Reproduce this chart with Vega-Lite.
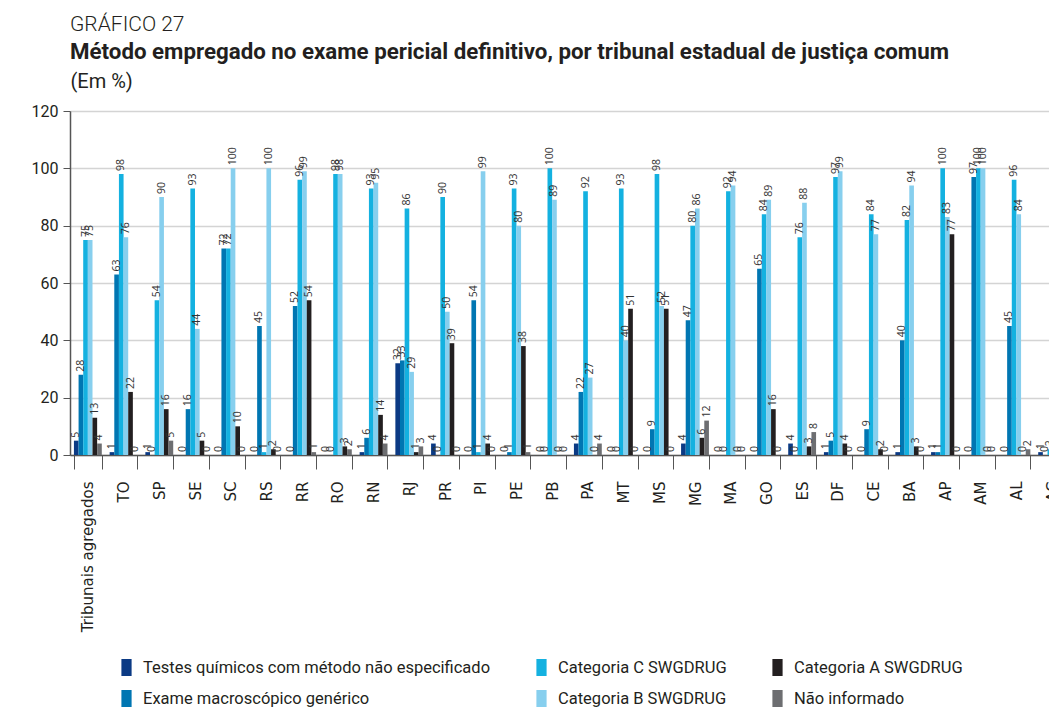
{
  "$schema": "https://vega.github.io/schema/vega-lite/v6.json",
  "autosize": {"type": "none"},
  "width": 979,
  "height": 344,
  "padding": {"left": 70, "top": 111, "right": 0, "bottom": 255},
  "background": "white",
  "title": {
    "text": "GRÁFICO 27",
    "subtitle": "Método empregado no exame pericial definitivo, por tribunal estadual de justiça comum",
    "anchor": "start",
    "frame": "group",
    "offset": 8,
    "font": "Roboto",
    "fontSize": 21,
    "fontWeight": 300,
    "color": "#231f20",
    "subtitleFont": "Roboto",
    "subtitleFontSize": 22.3,
    "subtitleFontWeight": "bold",
    "subtitleColor": "#231f20",
    "subtitlePadding": 6
  },
  "data": {
    "values": [
      {"tribunal": "Tribunais agregados", "metodo": "Testes químicos com método não especificado", "valor": 5},
      {"tribunal": "Tribunais agregados", "metodo": "Exame macroscópico genérico", "valor": 28},
      {"tribunal": "Tribunais agregados", "metodo": "Categoria C SWGDRUG", "valor": 75},
      {"tribunal": "Tribunais agregados", "metodo": "Categoria B SWGDRUG", "valor": 75},
      {"tribunal": "Tribunais agregados", "metodo": "Categoria A SWGDRUG", "valor": 13},
      {"tribunal": "Tribunais agregados", "metodo": "Não informado", "valor": 4},
      {"tribunal": "TO", "metodo": "Testes químicos com método não especificado", "valor": 1},
      {"tribunal": "TO", "metodo": "Exame macroscópico genérico", "valor": 63},
      {"tribunal": "TO", "metodo": "Categoria C SWGDRUG", "valor": 98},
      {"tribunal": "TO", "metodo": "Categoria B SWGDRUG", "valor": 76},
      {"tribunal": "TO", "metodo": "Categoria A SWGDRUG", "valor": 22},
      {"tribunal": "TO", "metodo": "Não informado", "valor": 0},
      {"tribunal": "SP", "metodo": "Testes químicos com método não especificado", "valor": 1},
      {"tribunal": "SP", "metodo": "Exame macroscópico genérico", "valor": 0},
      {"tribunal": "SP", "metodo": "Categoria C SWGDRUG", "valor": 54},
      {"tribunal": "SP", "metodo": "Categoria B SWGDRUG", "valor": 90},
      {"tribunal": "SP", "metodo": "Categoria A SWGDRUG", "valor": 16},
      {"tribunal": "SP", "metodo": "Não informado", "valor": 5},
      {"tribunal": "SE", "metodo": "Testes químicos com método não especificado", "valor": 0},
      {"tribunal": "SE", "metodo": "Exame macroscópico genérico", "valor": 16},
      {"tribunal": "SE", "metodo": "Categoria C SWGDRUG", "valor": 93},
      {"tribunal": "SE", "metodo": "Categoria B SWGDRUG", "valor": 44},
      {"tribunal": "SE", "metodo": "Categoria A SWGDRUG", "valor": 5},
      {"tribunal": "SE", "metodo": "Não informado", "valor": 0},
      {"tribunal": "SC", "metodo": "Testes químicos com método não especificado", "valor": 0},
      {"tribunal": "SC", "metodo": "Exame macroscópico genérico", "valor": 72},
      {"tribunal": "SC", "metodo": "Categoria C SWGDRUG", "valor": 72},
      {"tribunal": "SC", "metodo": "Categoria B SWGDRUG", "valor": 100},
      {"tribunal": "SC", "metodo": "Categoria A SWGDRUG", "valor": 10},
      {"tribunal": "SC", "metodo": "Não informado", "valor": 0},
      {"tribunal": "RS", "metodo": "Testes químicos com método não especificado", "valor": 0},
      {"tribunal": "RS", "metodo": "Exame macroscópico genérico", "valor": 45},
      {"tribunal": "RS", "metodo": "Categoria C SWGDRUG", "valor": 1},
      {"tribunal": "RS", "metodo": "Categoria B SWGDRUG", "valor": 100},
      {"tribunal": "RS", "metodo": "Categoria A SWGDRUG", "valor": 2},
      {"tribunal": "RS", "metodo": "Não informado", "valor": 0},
      {"tribunal": "RR", "metodo": "Testes químicos com método não especificado", "valor": 0},
      {"tribunal": "RR", "metodo": "Exame macroscópico genérico", "valor": 52},
      {"tribunal": "RR", "metodo": "Categoria C SWGDRUG", "valor": 96},
      {"tribunal": "RR", "metodo": "Categoria B SWGDRUG", "valor": 99},
      {"tribunal": "RR", "metodo": "Categoria A SWGDRUG", "valor": 54},
      {"tribunal": "RR", "metodo": "Não informado", "valor": 1},
      {"tribunal": "RO", "metodo": "Testes químicos com método não especificado", "valor": 0},
      {"tribunal": "RO", "metodo": "Exame macroscópico genérico", "valor": 0},
      {"tribunal": "RO", "metodo": "Categoria C SWGDRUG", "valor": 98},
      {"tribunal": "RO", "metodo": "Categoria B SWGDRUG", "valor": 98},
      {"tribunal": "RO", "metodo": "Categoria A SWGDRUG", "valor": 3},
      {"tribunal": "RO", "metodo": "Não informado", "valor": 2},
      {"tribunal": "RN", "metodo": "Testes químicos com método não especificado", "valor": 1},
      {"tribunal": "RN", "metodo": "Exame macroscópico genérico", "valor": 6},
      {"tribunal": "RN", "metodo": "Categoria C SWGDRUG", "valor": 93},
      {"tribunal": "RN", "metodo": "Categoria B SWGDRUG", "valor": 95},
      {"tribunal": "RN", "metodo": "Categoria A SWGDRUG", "valor": 14},
      {"tribunal": "RN", "metodo": "Não informado", "valor": 4},
      {"tribunal": "RJ", "metodo": "Testes químicos com método não especificado", "valor": 32},
      {"tribunal": "RJ", "metodo": "Exame macroscópico genérico", "valor": 33},
      {"tribunal": "RJ", "metodo": "Categoria C SWGDRUG", "valor": 86},
      {"tribunal": "RJ", "metodo": "Categoria B SWGDRUG", "valor": 29},
      {"tribunal": "RJ", "metodo": "Categoria A SWGDRUG", "valor": 1},
      {"tribunal": "RJ", "metodo": "Não informado", "valor": 3},
      {"tribunal": "PR", "metodo": "Testes químicos com método não especificado", "valor": 4},
      {"tribunal": "PR", "metodo": "Exame macroscópico genérico", "valor": 0},
      {"tribunal": "PR", "metodo": "Categoria C SWGDRUG", "valor": 90},
      {"tribunal": "PR", "metodo": "Categoria B SWGDRUG", "valor": 50},
      {"tribunal": "PR", "metodo": "Categoria A SWGDRUG", "valor": 39},
      {"tribunal": "PR", "metodo": "Não informado", "valor": 0},
      {"tribunal": "PI", "metodo": "Testes químicos com método não especificado", "valor": 0},
      {"tribunal": "PI", "metodo": "Exame macroscópico genérico", "valor": 54},
      {"tribunal": "PI", "metodo": "Categoria C SWGDRUG", "valor": 1},
      {"tribunal": "PI", "metodo": "Categoria B SWGDRUG", "valor": 99},
      {"tribunal": "PI", "metodo": "Categoria A SWGDRUG", "valor": 4},
      {"tribunal": "PI", "metodo": "Não informado", "valor": 0},
      {"tribunal": "PE", "metodo": "Testes químicos com método não especificado", "valor": 0},
      {"tribunal": "PE", "metodo": "Exame macroscópico genérico", "valor": 1},
      {"tribunal": "PE", "metodo": "Categoria C SWGDRUG", "valor": 93},
      {"tribunal": "PE", "metodo": "Categoria B SWGDRUG", "valor": 80},
      {"tribunal": "PE", "metodo": "Categoria A SWGDRUG", "valor": 38},
      {"tribunal": "PE", "metodo": "Não informado", "valor": 1},
      {"tribunal": "PB", "metodo": "Testes químicos com método não especificado", "valor": 0},
      {"tribunal": "PB", "metodo": "Exame macroscópico genérico", "valor": 0},
      {"tribunal": "PB", "metodo": "Categoria C SWGDRUG", "valor": 100},
      {"tribunal": "PB", "metodo": "Categoria B SWGDRUG", "valor": 89},
      {"tribunal": "PB", "metodo": "Categoria A SWGDRUG", "valor": 0},
      {"tribunal": "PB", "metodo": "Não informado", "valor": 0},
      {"tribunal": "PA", "metodo": "Testes químicos com método não especificado", "valor": 4},
      {"tribunal": "PA", "metodo": "Exame macroscópico genérico", "valor": 22},
      {"tribunal": "PA", "metodo": "Categoria C SWGDRUG", "valor": 92},
      {"tribunal": "PA", "metodo": "Categoria B SWGDRUG", "valor": 27},
      {"tribunal": "PA", "metodo": "Categoria A SWGDRUG", "valor": 0},
      {"tribunal": "PA", "metodo": "Não informado", "valor": 4},
      {"tribunal": "MT", "metodo": "Testes químicos com método não especificado", "valor": 0},
      {"tribunal": "MT", "metodo": "Exame macroscópico genérico", "valor": 0},
      {"tribunal": "MT", "metodo": "Categoria C SWGDRUG", "valor": 93},
      {"tribunal": "MT", "metodo": "Categoria B SWGDRUG", "valor": 40},
      {"tribunal": "MT", "metodo": "Categoria A SWGDRUG", "valor": 51},
      {"tribunal": "MT", "metodo": "Não informado", "valor": 0},
      {"tribunal": "MS", "metodo": "Testes químicos com método não especificado", "valor": 0},
      {"tribunal": "MS", "metodo": "Exame macroscópico genérico", "valor": 9},
      {"tribunal": "MS", "metodo": "Categoria C SWGDRUG", "valor": 98},
      {"tribunal": "MS", "metodo": "Categoria B SWGDRUG", "valor": 52},
      {"tribunal": "MS", "metodo": "Categoria A SWGDRUG", "valor": 51},
      {"tribunal": "MS", "metodo": "Não informado", "valor": 0},
      {"tribunal": "MG", "metodo": "Testes químicos com método não especificado", "valor": 4},
      {"tribunal": "MG", "metodo": "Exame macroscópico genérico", "valor": 47},
      {"tribunal": "MG", "metodo": "Categoria C SWGDRUG", "valor": 80},
      {"tribunal": "MG", "metodo": "Categoria B SWGDRUG", "valor": 86},
      {"tribunal": "MG", "metodo": "Categoria A SWGDRUG", "valor": 6},
      {"tribunal": "MG", "metodo": "Não informado", "valor": 12},
      {"tribunal": "MA", "metodo": "Testes químicos com método não especificado", "valor": 0},
      {"tribunal": "MA", "metodo": "Exame macroscópico genérico", "valor": 0},
      {"tribunal": "MA", "metodo": "Categoria C SWGDRUG", "valor": 92},
      {"tribunal": "MA", "metodo": "Categoria B SWGDRUG", "valor": 94},
      {"tribunal": "MA", "metodo": "Categoria A SWGDRUG", "valor": 0},
      {"tribunal": "MA", "metodo": "Não informado", "valor": 0},
      {"tribunal": "GO", "metodo": "Testes químicos com método não especificado", "valor": 0},
      {"tribunal": "GO", "metodo": "Exame macroscópico genérico", "valor": 65},
      {"tribunal": "GO", "metodo": "Categoria C SWGDRUG", "valor": 84},
      {"tribunal": "GO", "metodo": "Categoria B SWGDRUG", "valor": 89},
      {"tribunal": "GO", "metodo": "Categoria A SWGDRUG", "valor": 16},
      {"tribunal": "GO", "metodo": "Não informado", "valor": 0},
      {"tribunal": "ES", "metodo": "Testes químicos com método não especificado", "valor": 4},
      {"tribunal": "ES", "metodo": "Exame macroscópico genérico", "valor": 0},
      {"tribunal": "ES", "metodo": "Categoria C SWGDRUG", "valor": 76},
      {"tribunal": "ES", "metodo": "Categoria B SWGDRUG", "valor": 88},
      {"tribunal": "ES", "metodo": "Categoria A SWGDRUG", "valor": 3},
      {"tribunal": "ES", "metodo": "Não informado", "valor": 8},
      {"tribunal": "DF", "metodo": "Testes químicos com método não especificado", "valor": 1},
      {"tribunal": "DF", "metodo": "Exame macroscópico genérico", "valor": 5},
      {"tribunal": "DF", "metodo": "Categoria C SWGDRUG", "valor": 97},
      {"tribunal": "DF", "metodo": "Categoria B SWGDRUG", "valor": 99},
      {"tribunal": "DF", "metodo": "Categoria A SWGDRUG", "valor": 4},
      {"tribunal": "DF", "metodo": "Não informado", "valor": 0},
      {"tribunal": "CE", "metodo": "Testes químicos com método não especificado", "valor": 0},
      {"tribunal": "CE", "metodo": "Exame macroscópico genérico", "valor": 9},
      {"tribunal": "CE", "metodo": "Categoria C SWGDRUG", "valor": 84},
      {"tribunal": "CE", "metodo": "Categoria B SWGDRUG", "valor": 77},
      {"tribunal": "CE", "metodo": "Categoria A SWGDRUG", "valor": 2},
      {"tribunal": "CE", "metodo": "Não informado", "valor": 0},
      {"tribunal": "BA", "metodo": "Testes químicos com método não especificado", "valor": 1},
      {"tribunal": "BA", "metodo": "Exame macroscópico genérico", "valor": 40},
      {"tribunal": "BA", "metodo": "Categoria C SWGDRUG", "valor": 82},
      {"tribunal": "BA", "metodo": "Categoria B SWGDRUG", "valor": 94},
      {"tribunal": "BA", "metodo": "Categoria A SWGDRUG", "valor": 3},
      {"tribunal": "BA", "metodo": "Não informado", "valor": 0},
      {"tribunal": "AP", "metodo": "Testes químicos com método não especificado", "valor": 1},
      {"tribunal": "AP", "metodo": "Exame macroscópico genérico", "valor": 1},
      {"tribunal": "AP", "metodo": "Categoria C SWGDRUG", "valor": 100},
      {"tribunal": "AP", "metodo": "Categoria B SWGDRUG", "valor": 83},
      {"tribunal": "AP", "metodo": "Categoria A SWGDRUG", "valor": 77},
      {"tribunal": "AP", "metodo": "Não informado", "valor": 0},
      {"tribunal": "AM", "metodo": "Testes químicos com método não especificado", "valor": 0},
      {"tribunal": "AM", "metodo": "Exame macroscópico genérico", "valor": 97},
      {"tribunal": "AM", "metodo": "Categoria C SWGDRUG", "valor": 100},
      {"tribunal": "AM", "metodo": "Categoria B SWGDRUG", "valor": 100},
      {"tribunal": "AM", "metodo": "Categoria A SWGDRUG", "valor": 0},
      {"tribunal": "AM", "metodo": "Não informado", "valor": 0},
      {"tribunal": "AL", "metodo": "Testes químicos com método não especificado", "valor": 0},
      {"tribunal": "AL", "metodo": "Exame macroscópico genérico", "valor": 45},
      {"tribunal": "AL", "metodo": "Categoria C SWGDRUG", "valor": 96},
      {"tribunal": "AL", "metodo": "Categoria B SWGDRUG", "valor": 84},
      {"tribunal": "AL", "metodo": "Categoria A SWGDRUG", "valor": 0},
      {"tribunal": "AL", "metodo": "Não informado", "valor": 2},
      {"tribunal": "AC", "metodo": "Testes químicos com método não especificado", "valor": 1},
      {"tribunal": "AC", "metodo": "Exame macroscópico genérico", "valor": 0},
      {"tribunal": "AC", "metodo": "Categoria C SWGDRUG", "valor": 2},
      {"tribunal": "AC", "metodo": "Categoria B SWGDRUG", "valor": 2},
      {"tribunal": "AC", "metodo": "Categoria A SWGDRUG", "valor": 1},
      {"tribunal": "AC", "metodo": "Não informado", "valor": 0}
    ]
  },
  "encoding": {
    "x": {
      "field": "tribunal",
      "type": "nominal",
      "sort": null,
      "scale": {"range": [0, 1000], "paddingInner": 0.22, "paddingOuter": 0.11},
      "axis": {
        "title": null,
        "labelAngle": 270,
        "labelFont": "DejaVu Sans",
        "labelFontSize": 15,
        "labelColor": "#231f20",
        "labelPadding": 12,
        "tickBand": "extent",
        "tickSize": 14,
        "tickColor": "#555555",
        "domainColor": "#555555",
        "domainWidth": 1.5,
        "grid": false
      }
    },
    "xOffset": {
      "field": "metodo",
      "type": "nominal",
      "sort": ["Testes químicos com método não especificado", "Exame macroscópico genérico", "Categoria C SWGDRUG", "Categoria B SWGDRUG", "Categoria A SWGDRUG", "Não informado"],
      "scale": {"paddingInner": 0, "paddingOuter": 0}
    },
    "y": {
      "field": "valor",
      "type": "quantitative",
      "scale": {"domain": [0, 120], "nice": false},
      "axis": {
        "values": [0, 20, 40, 60, 80, 100, 120],
        "title": "(Em %)",
        "titleAngle": 0,
        "titleAlign": "left",
        "titleBaseline": "alphabetic",
        "titleX": 0,
        "titleY": -24,
        "titleFont": "Roboto",
        "titleFontSize": 20,
        "titleFontWeight": "normal",
        "titleColor": "#231f20",
        "labelFont": "Roboto",
        "labelFontSize": 16,
        "labelColor": "#231f20",
        "labelPadding": 5,
        "tickSize": 7,
        "tickColor": "#555555",
        "domainColor": "#555555",
        "domainWidth": 1.5,
        "gridColor": "#d4d4d4",
        "gridWidth": 1.5
      }
    }
  },
  "layer": [
    {
      "mark": {"type": "bar"},
      "encoding": {
        "color": {
          "field": "metodo",
          "type": "nominal",
          "scale": {
            "domain": ["Testes químicos com método não especificado", "Categoria C SWGDRUG", "Categoria A SWGDRUG", "Exame macroscópico genérico", "Categoria B SWGDRUG", "Não informado"],
            "range": ["#0b3a84", "#14b1e0", "#231f20", "#0076b2", "#87cfee", "#6d6e71"]
          },
          "legend": {
            "title": null,
            "orient": "none",
            "legendX": 48,
            "legendY": 548,
            "direction": "horizontal",
            "columns": 3,
            "columnPadding": 42,
            "rowPadding": 14,
            "symbolType": "M-0.6,-1H0.6V1H-0.6Z",
            "symbolSize": 289,
            "symbolStrokeWidth": 0,
            "symbolOpacity": 1,
            "labelFont": "Roboto",
            "labelFontSize": 16.5,
            "labelColor": "#231f20",
            "labelOffset": 8,
            "labelLimit": 500
          }
        }
      }
    },
    {
      "mark": {"type": "text", "angle": 270, "align": "left", "baseline": "middle", "dx": 3, "font": "Open Sans", "fontSize": 10.5, "color": "#333333"},
      "encoding": {
        "text": {"field": "valor", "type": "quantitative"}
      }
    }
  ]
}
